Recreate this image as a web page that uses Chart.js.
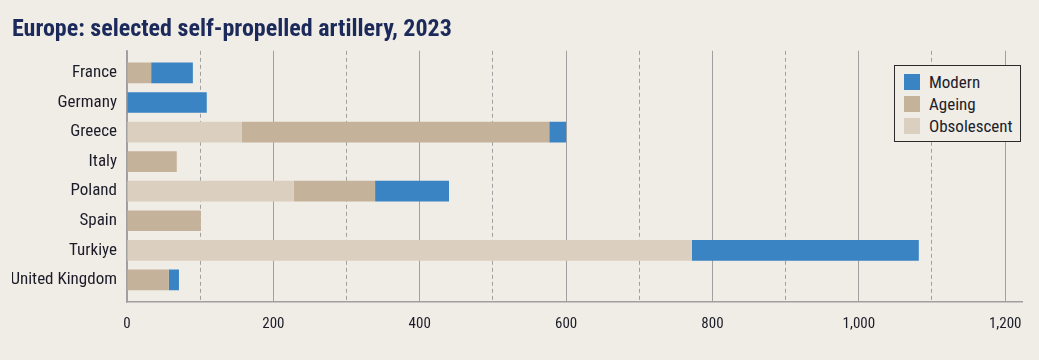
<!DOCTYPE html>
<html>
<head>
<meta charset="utf-8">
<script src="https://cdn.jsdelivr.net/npm/chart.js@4.4.0/dist/chart.umd.min.js"></script>
<style>
  body { margin: 0; background: #f0ece6; }
  #wrap { position: relative; width: 1039px; height: 360px; }
  #legend {
    position: absolute; left: 894px; top: 65px; width: 125px; height: 75px;
    border: 1.5px solid #2a2a2a; background: #f0ece6;
    font-family: "Roboto Condensed", sans-serif;
    font-size: 17px; color: #1c1c2a;
  }
  .item { position: absolute; left: 9px; height: 16px; line-height: 16px; }
  .item span { display: inline-block; width: 16px; height: 16px; vertical-align: top; margin-right: 9px; }
</style>
</head>
<body>
<div id="wrap">
  <canvas id="chart"></canvas>
  <div id="legend"></div>
</div>
<script>
const countries = ['France', 'Germany', 'Greece', 'Italy', 'Poland', 'Spain', 'Turkiye', 'United Kingdom'];
const obsolescent = [0, 0, 157, 0, 228, 0, 772, 0];
const ageing = [33, 0, 420, 68, 111, 101, 0, 57];
const modern = [57, 109, 23, 0, 101, 0, 310, 14];
const xTicks = [0, 100, 200, 300, 400, 500, 600, 700, 800, 900, 1000, 1100, 1200];

const colors = { Modern: '#3a84c3', Ageing: '#c4b29a', Obsolescent: '#dbcfbf' };
const narrow = '"Roboto Condensed", sans-serif';

function series(values) {
  return values.map((v, i) => ({ x: v, y: i }));
}

const legend = document.getElementById('legend');
['Modern', 'Ageing', 'Obsolescent'].forEach((name, i) => {
  const d = document.createElement('div');
  d.className = 'item';
  d.style.top = (8 + i * 22) + 'px';
  d.innerHTML = `<span style="background:${colors[name]}"></span>${name}`;
  legend.appendChild(d);
});

new Chart(document.getElementById('chart'), {
  type: 'bar',
  data: {
    datasets: [
      { label: 'Obsolescent', data: series(obsolescent), backgroundColor: colors.Obsolescent, stack: 's' },
      { label: 'Ageing', data: series(ageing), backgroundColor: colors.Ageing, stack: 's' },
      { label: 'Modern', data: series(modern), backgroundColor: colors.Modern, stack: 's' },
    ],
  },
  options: {
    indexAxis: 'y',
    responsive: true,
    maintainAspectRatio: false,
    animation: false,
    barPercentage: 0.7,
    categoryPercentage: 1,
    layout: { padding: { left: 12, right: 17, top: 0, bottom: 18 } },
    plugins: {
      legend: { display: false },
      tooltip: { enabled: false },
      title: {
        display: true,
        text: 'Europe: selected self-propelled artillery, 2023',
        align: 'start',
        color: '#1b2a5a',
        font: { family: narrow, size: 24, weight: 'bold' },
        padding: { top: 16, bottom: 6 },
      },
    },
    scales: {
      x: {
        type: 'linear',
        stacked: true,
        min: 0,
        max: 1223,
        afterBuildTicks: (scale) => { scale.ticks = xTicks.map((v) => ({ value: v })); },
        afterFit: (scale) => { scale.height = 40; },
        grid: { color: '#a0a0a0', lineWidth: 1, drawTicks: false },
        border: {
          display: true, color: '#a0a0a0', width: 1.5,
          dash: (ctx) => (ctx.tick && ctx.tick.value % 200 !== 0 ? [4, 3] : []),
        },
        ticks: {
          padding: 13,
          color: '#1c1c28',
          font: { family: narrow, size: 15 },
          callback: (v) => (v % 200 === 0 ? v.toLocaleString('en-US') : ''),
        },
      },
      y: {
        type: 'linear',
        reverse: true,
        offset: false,
        min: -0.75,
        max: 7.75,
        afterBuildTicks: (scale) => { scale.ticks = countries.map((_, i) => ({ value: i })); },
        afterFit: (scale) => { scale.width = 115; },
        grid: { display: false, offset: false, drawTicks: false },
        border: { display: true, color: '#a0a0a0', width: 1.5 },
        ticks: {
          padding: 10,
          color: '#1c1c28',
          font: { family: narrow, size: 17 },
          callback: (v) => countries[v] ?? '',
        },
      },
    },
  },
});
</script>
</body>
</html>
